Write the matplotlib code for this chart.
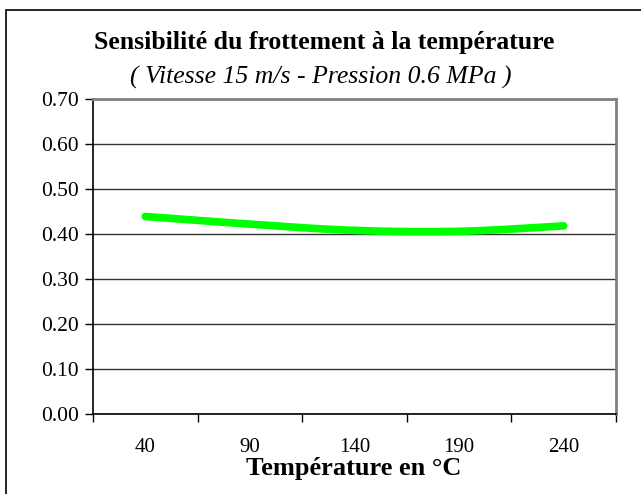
import numpy as np
import matplotlib.pyplot as plt
from matplotlib.patches import Rectangle

# donnees
temperatures = [40, 90, 140, 190, 240]
frottement = [0.439, 0.422, 0.408, 0.406, 0.418]
yticks = [0.0, 0.1, 0.2, 0.3, 0.4, 0.5, 0.6, 0.7]


def catmull_rom(xs, ys, n=30):
    # courbe lissee (comme le trait "lisse" d'Excel)
    px = [xs[0]] + list(xs) + [xs[-1]]
    py = [ys[0]] + list(ys) + [ys[-1]]
    X = []
    Y = []
    for i in range(1, len(px) - 2):
        t = np.linspace(0, 1, n)
        for p, out in ((px, X), (py, Y)):
            p0, p1, p2, p3 = p[i - 1], p[i], p[i + 1], p[i + 2]
            out.extend(0.5 * ((2 * p1) + (-p0 + p2) * t
                              + (2 * p0 - 5 * p1 + 4 * p2 - p3) * t ** 2
                              + (-p0 + 3 * p1 - 3 * p2 + p3) * t ** 3))
    return X, Y


plt.rcParams['font.family'] = ['Liberation Serif', 'DejaVu Serif']

fig = plt.figure(figsize=(6.41, 4.94), dpi=100)
ax = fig.add_axes([93 / 641, 80 / 494, (616 - 93) / 641, (414 - 99) / 494])

pos = np.arange(len(temperatures))
sx, sy = catmull_rom(pos, frottement)
ax.plot(sx, sy, color='#00ff00', lw=5.5, solid_capstyle='round')

ax.set_xlim(-0.5, len(temperatures) - 0.5)
ax.set_ylim(0, 0.7)
ax.set_yticks(yticks)
ax.set_yticklabels(['%.2f' % v for v in yticks], fontsize=15.5)
ax.set_xticks(np.arange(-0.5, len(temperatures), 1.0))
ax.set_xticklabels([])
ax.set_xticks(pos, minor=True)
ax.set_xticklabels([str(t) for t in temperatures], minor=True, fontsize=15)
ax.tick_params(axis='x', which='minor', length=0, pad=17)
ax.tick_params(axis='x', which='major', length=6, width=1, color='black')
ax.tick_params(axis='y', length=6, width=1, color='black', pad=4)

ax.grid(axis='y', color='#333333', lw=1)
ax.set_axisbelow(True)
for s in ('top', 'right'):
    ax.spines[s].set_color('#808080')
    ax.spines[s].set_linewidth(2)
for s in ('left', 'bottom'):
    ax.spines[s].set_color('black')
    ax.spines[s].set_linewidth(1.2)

fig.text(354 / 641, 1 - 468 / 494, 'Température en °C',
         ha='center', va='center', fontsize=19, fontweight='bold')
fig.text(324 / 641, 1 - 43 / 494, 'Sensibilité du frottement à la température',
         ha='center', va='center', fontsize=18.5, fontweight='bold')
fig.text(321 / 641, 1 - 77 / 494, '( Vitesse 15 m/s - Pression 0.6 MPa )',
         ha='center', va='center', fontsize=18.5, style='italic')

fig.patches.append(Rectangle((6 / 641, -0.1), 1.0, 1.1 - 10 / 494,
                             transform=fig.transFigure, fill=False,
                             edgecolor='black', lw=1.2))

fig.savefig('out.png', dpi=100)
